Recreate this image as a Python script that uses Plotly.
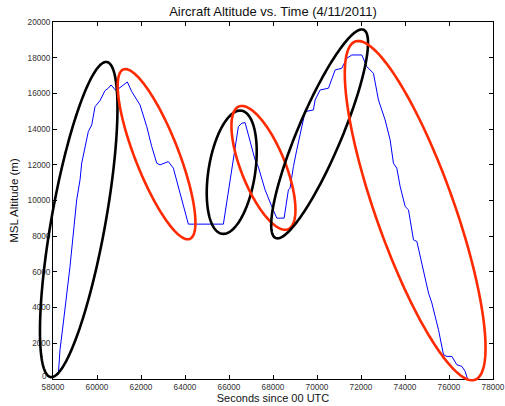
import numpy as np
import plotly.graph_objects as go

# ---- data ----
time_s = [58241, 58318, 58468, 58773, 59077, 59228, 59305, 59605, 59760, 59910,
          60137, 60365, 60515, 60638, 60865, 61124, 61379, 61579, 61806, 61956,
          62261, 62488, 62716, 62866, 63243, 63471, 63775, 64153, 65745, 66200,
          66427, 66580, 66731, 66882, 67186, 67337, 67641, 67945, 68173, 68505,
          68700, 68777, 68928, 69080, 69310, 69460, 69837, 69915, 70142, 70520,
          70824, 71127, 71355, 71583, 72038, 72265, 72566, 72793, 73096, 73324,
          73475, 73628, 73780, 74008, 74158, 74385, 74540, 74913, 75068, 75221,
          75522, 75750, 75903, 76130, 76357, 76585, 76736, 76830]
alt_m = [240, 1640, 3135, 6303, 10036, 11156, 12090, 13860, 14235, 15259,
         15595, 16154, 16290, 16473, 16154, 16378, 16642, 16100, 15634, 15354,
         14140, 13020, 12090, 11996, 12180, 11810, 10411, 8676, 8676, 12460,
         14140, 14330, 14363, 13675, 12275, 11867, 10596, 9661, 9012, 9012,
         10596, 10691, 11900, 12835, 14140, 14980, 15074, 15634, 16194, 16290,
         17313, 17408, 17968, 18153, 18153, 17500, 17128, 15634, 14514, 13395,
         12090, 11810, 10781, 9661, 9477, 7797, 7702, 5743, 4814, 4254,
         2760, 1360, 1265, 1265, 800, 705, 425, 50]

x_ticks = [58000, 60000, 62000, 64000, 66000, 68000, 70000, 72000, 74000, 76000, 78000]
y_ticks = [0, 2000, 4000, 6000, 8000, 10000, 12000, 14000, 16000, 18000, 20000]

# highlight ellipses: centre (data units), semi-axes (px), tilt (deg), colour
ell_cx = [59169, 62707, 66124, 67566, 70119, 74462]
ell_cy = [8934, 12594, 11584, 11828, 13731, 9432]
ell_a = [160.0, 91.0, 62.3, 66.1, 113.0, 179.4]
ell_b = [27.0, 21.7, 23.3, 22.1, 22.0, 39.2]
ell_ang = [79.85, -68.6, 81.0, -68.2, 67.1, -70.5]
ell_col = ["black", "#ff2a00", "black", "#ff2a00", "black", "#ff2a00"]

W, H = 505, 406
ML, MR, MT, MB = 53, 12, 22, 27
PW, PH = W - ML - MR, H - MT - MB
XR = [58000, 78000]
YR = [0, 20000]
FONT = "Liberation Sans, Arial, sans-serif"

fig = go.Figure()
fig.add_trace(go.Scatter(x=time_s, y=alt_m, mode="lines",
                         line=dict(color="#0000ff", width=1), showlegend=False))

shapes = []
t = np.linspace(0, 2 * np.pi, 200)
for cx, cy, a, b, ang, col in zip(ell_cx, ell_cy, ell_a, ell_b, ell_ang, ell_col):
    th = np.deg2rad(ang)
    dx = a * np.cos(t) * np.cos(th) - b * np.sin(t) * np.sin(th)
    dy = a * np.cos(t) * np.sin(th) + b * np.sin(t) * np.cos(th)
    px = (cx - XR[0]) / (XR[1] - XR[0]) + dx / PW
    py = (cy - YR[0]) / (YR[1] - YR[0]) + dy / PH
    path = "M " + " L ".join(f"{u:.5f},{v:.5f}" for u, v in zip(px, py)) + " Z"
    shapes.append(dict(type="path", path=path, xref="paper", yref="paper",
                       line=dict(color=col, width=2.6), layer="above"))

axis_common = dict(showline=True, linecolor="black", linewidth=1, mirror="ticks",
                   ticks="inside", ticklen=4, tickcolor="black", showgrid=False,
                   zeroline=False, tickformat="d", ticklabeloverflow="allow",
                   tickfont=dict(family=FONT, size=8.2, color="#333333"))

fig.update_layout(
    width=W, height=H,
    margin=dict(l=ML, r=MR, t=MT, b=MB, autoexpand=False),
    paper_bgcolor="white", plot_bgcolor="white",
    template="none",
    title=dict(text="Aircraft Altitude vs. Time (4/11/2011)", x=(ML + PW / 2) / W, xanchor="center",
               y=1 - 11 / H, yanchor="middle",
               font=dict(family=FONT, size=13, color="#111111")),
    xaxis=dict(range=XR, tickvals=x_ticks, automargin=False,
               title=dict(text="Seconds since 00 UTC", standoff=2,
                          font=dict(family=FONT, size=11, color="#111111")),
               **axis_common),
    yaxis=dict(range=YR, tickvals=y_ticks, automargin=False,
               title=dict(text="MSL Altitude (m)", standoff=6,
                          font=dict(family=FONT, size=11.5, color="#111111")),
               **axis_common),
    shapes=shapes,
)
# the reference shows the "0" label drawn over the ellipse's lower tip
fig.add_annotation(text="0", xref="paper", yref="paper", x=-4 / PW, y=3 / PH,
                   xanchor="right", yanchor="middle", showarrow=False,
                   font=dict(family=FONT, size=8.2, color="#333333"))
fig.update_yaxes(tickvals=y_ticks[1:])
fig.write_html("out.html")
